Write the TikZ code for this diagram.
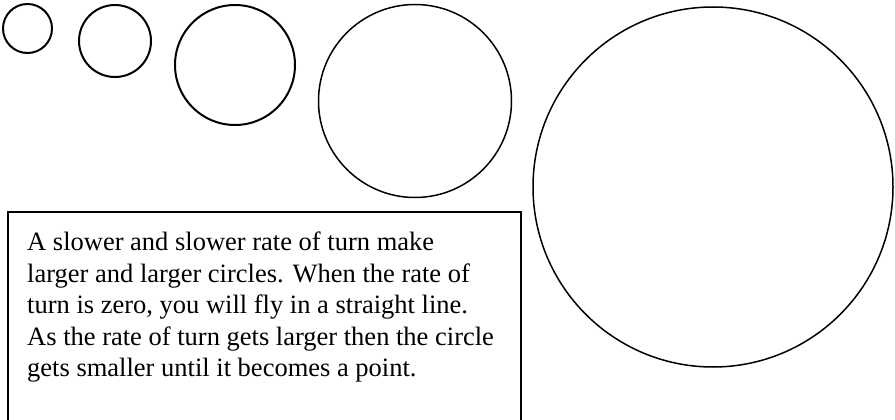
\documentclass[tikz,border=0pt]{standalone}
\usepackage{fontspec}
\setmainfont{Liberation Serif}
\usetikzlibrary{positioning}

\tikzset{
  ring/.style={draw, circle, inner sep=0pt, line width=#1},
  ring/.default=2pt,
  notebox/.style={draw, line width=2pt, anchor=north west, inner sep=0pt},
  caption/.style={align=left, inner sep=0pt, anchor=north west,
    font=\fontsize{26.5}{31.5}\selectfont}
}

\begin{document}
\begin{tikzpicture}[x=1pt, y=-1pt]
        \clip (0,0) rectangle (895,420);
        % The circles get larger from left to right.
            \node[ring, minimum size=49pt] (c1) at (27.5,28.5) {};
            \node[ring, minimum size=72pt] (c2) at (115,41) {};
            \node[ring, minimum size=120pt] (c3) at (235,65) {};
            \node[ring=1.5pt, minimum size=193pt] (c4) at (415,101) {};
            \node[ring=1.5pt, minimum size=360pt] (c5) at (713,187) {};
        % This draws the text box, its bottom runs off the page.
            \node[notebox, minimum width=513pt, minimum height=230pt] (note) at (7,211) {};
            \node[caption] (txt) at ([xshift=20pt, yshift=-21pt]note.north west)
                {A slower and slower rate of turn make\\
                 larger and larger circles. When the rate of\\
                 turn is zero, you will fly in a straight line.\\
                 As the rate of turn gets larger then the circle\\
                 gets smaller until it becomes a point.};
    \end{tikzpicture}
\end{document}
